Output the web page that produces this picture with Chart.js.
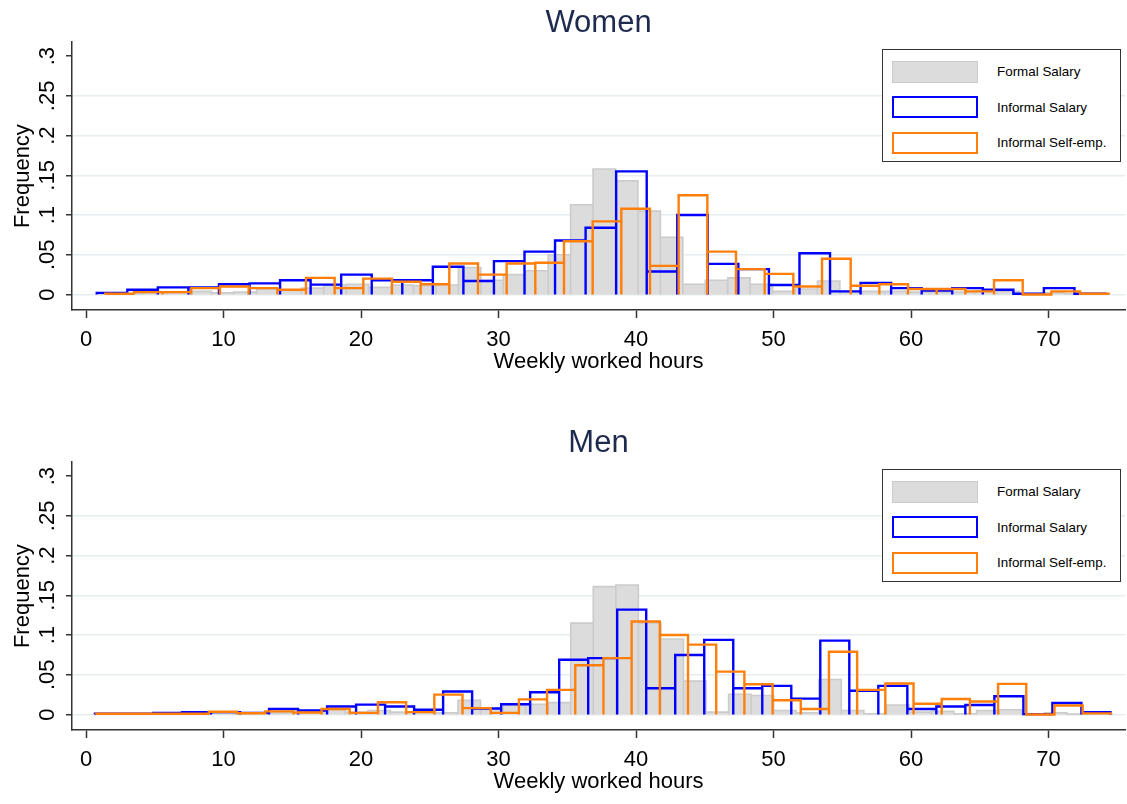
<!DOCTYPE html>
<html>
<head>
<meta charset="utf-8">
<script src="https://cdn.jsdelivr.net/npm/chart.js@4.4.1/dist/chart.umd.min.js"></script>
<style>
  body { margin: 0; background: #fff; font-family: "Liberation Sans", Arial, sans-serif; }
  .panel { position: relative; width: 1127px; }
  .legend {
    position: absolute; left: 882px; top: 49px; width: 239px; height: 113px;
    box-sizing: border-box; border: 1px solid #333; background: #fff; padding-top: 4px;
  }
  .legend-row { display: flex; align-items: center; height: 35.5px; }
  .swatch { display: inline-block; box-sizing: border-box; width: 86px; height: 22px; margin-left: 9px; border-style: solid; }
  .legend-text { margin-left: 19px; font-size: 13.4px; color: #000; }
</style>
</head>
<body>
<div class="panel" style="height:420px">
  <canvas id="womenChart" width="1127" height="420"></canvas>
  <div class="legend" id="womenLegend"></div>
</div>
<div class="panel" style="height:384px">
  <canvas id="menChart" width="1127" height="384"></canvas>
  <div class="legend" id="menLegend"></div>
</div>
<script>
const hourTicks = [0, 10, 20, 30, 40, 50, 60, 70];
const freqTicks = [0, 0.05, 0.1, 0.15, 0.2, 0.25, 0.3];
const seriesLabels = ['Formal Salary', 'Informal Salary', 'Informal Self-emp.'];

// Women - bin start / width in hours, then frequency per bin
const womenFormalStart = 0.97, womenFormalWidth = 1.632;
const womenFormal = [0.001, 0.001, 0.002, 0.002, 0.004, 0.002, 0.003, 0.007, 0.005, 0.008,
  0.012, 0.013, 0.009, 0.012, 0.011, 0.012, 0.034, 0.018, 0.025, 0.030,
  0.050, 0.113, 0.158, 0.143, 0.105, 0.072, 0.013, 0.018, 0.021, 0.013,
  0.004, 0.007, 0.017, 0.003, 0.004, 0.004, 0.003, 0.003, 0.003, 0.005,
  0.004, 0.001, 0.002, 0.001, 0.001];
const womenInformalStart = 0.78, womenInformalWidth = 2.222;
const womenInformal = [0.002, 0.006, 0.009, 0.009, 0.013, 0.014, 0.018, 0.0125, 0.025, 0.018,
  0.018, 0.035, 0.017, 0.042, 0.054, 0.068, 0.084, 0.155, 0.029, 0.100,
  0.0385, 0.032, 0.012, 0.052, 0.004, 0.0146, 0.008, 0.005, 0.008, 0.006,
  0.001, 0.008, 0.001];
const womenSelfStart = 1.40, womenSelfWidth = 2.085;
const womenSelf = [0.001, 0.003, 0.003, 0.008, 0.010, 0.008, 0.006, 0.021, 0.008, 0.020,
  0.016, 0.013, 0.039, 0.025, 0.039, 0.040, 0.067, 0.092, 0.108, 0.036,
  0.125, 0.054, 0.032, 0.026, 0.010, 0.045, 0.011, 0.013, 0.007, 0.007,
  0.004, 0.018, 0.000, 0.004, 0.001];

// Men
const menFormalStart = 0.81, menFormalWidth = 1.64;
const menFormal = [0.001, 0.0005, 0.001, 0.001, 0.001, 0.002, 0.001, 0.002, 0.002, 0.002,
  0.006, 0.003, 0.005, 0.003, 0.003, 0.002, 0.018, 0.007, 0.012, 0.013,
  0.015, 0.115, 0.161, 0.163, 0.115, 0.095, 0.042, 0.003, 0.0255, 0.024,
  0.005, 0.002, 0.044, 0.005, 0.001, 0.012, 0.003, 0.004, 0.001, 0.005,
  0.006, 0.000, 0.002, 0.0005, 0.001];
const menInformalStart = 0.65, menInformalWidth = 2.11;
const menInformal = [0.001, 0.001, 0.002, 0.003, 0.003, 0.002, 0.007, 0.005, 0.010, 0.0125,
  0.010, 0.006, 0.029, 0.0075, 0.013, 0.028, 0.069, 0.071, 0.132, 0.033,
  0.075, 0.094, 0.033, 0.036, 0.020, 0.093, 0.030, 0.036, 0.007, 0.010,
  0.012, 0.023, 0.0005, 0.0145, 0.003];
const menSelfStart = 0.73, menSelfWidth = 2.05;
const menSelf = [0.001, 0.001, 0.001, 0.001, 0.0035, 0.0015, 0.004, 0.0025, 0.007, 0.002,
  0.0155, 0.003, 0.025, 0.008, 0.002, 0.019, 0.031, 0.062, 0.071, 0.117,
  0.100, 0.088, 0.054, 0.038, 0.018, 0.007, 0.079, 0.031, 0.039, 0.0136,
  0.0195, 0.0163, 0.0386, 0.000, 0.0113, 0.0014];

Chart.defaults.font.family = '"Liberation Sans", Arial, sans-serif';

// each bin becomes a closed rectangle outline on the line path
function histogram(start, width, heights) {
    const points = [];
    heights.forEach((h, i) => {
        const left = start + i * width;
        const right = left + width;
        points.push({ x: left, y: 0 }, { x: left, y: h }, { x: right, y: h }, { x: right, y: 0 });
    });
    return points;
}

function htmlLegend(containerId) {
    return {
        id: 'htmlLegend',
        afterUpdate(chart) {
            const box = document.getElementById(containerId);
            box.innerHTML = '';
            chart.data.datasets.forEach(ds => {
                const row = document.createElement('div');
                row.className = 'legend-row';
                const sw = document.createElement('span');
                sw.className = 'swatch';
                sw.style.background = ds.fill ? ds.backgroundColor : '#fff';
                sw.style.borderColor = ds.borderColor;
                sw.style.borderWidth = ds.fill ? '1.5px' : '2px';
                const txt = document.createElement('span');
                txt.className = 'legend-text';
                txt.textContent = ds.label;
                row.appendChild(sw);
                row.appendChild(txt);
                box.appendChild(row);
            });
        }
    };
}

function makeChart(canvasId, legendId, title, bottomPad, formal, informal, self) {
    const ctx = document.getElementById(canvasId).getContext('2d');
    return new Chart(ctx, {
        type: 'line',
        data: {
            datasets: [
                { label: seriesLabels[0], data: histogram(...formal), borderColor: '#cbcbcb',
                  backgroundColor: '#dcdcdc', fill: 'origin', borderWidth: 1.6, order: 3 },
                { label: seriesLabels[1], data: histogram(...informal), borderColor: '#0000ff',
                  fill: false, borderWidth: 2.4, order: 2 },
                { label: seriesLabels[2], data: histogram(...self), borderColor: '#ff7f0a',
                  fill: false, borderWidth: 2.4, order: 1 }
            ]
        },
        options: {
            responsive: false,
            animation: false,
            layout: { padding: { left: 0, right: 2, top: 0, bottom: bottomPad } },
            elements: {
                point: { radius: 0, hoverRadius: 0 },
                line: { tension: 0, borderJoinStyle: 'miter', borderCapStyle: 'butt' }
            },
            plugins: {
                legend: { display: false },
                tooltip: { enabled: false },
                title: {
                    display: true, text: title, fullSize: false, color: '#1e2a4e',
                    font: { size: 31, weight: 'normal' }, padding: { top: 5, bottom: 0 }
                }
            },
            scales: {
                x: {
                    type: 'linear', min: -1.02, max: 75.56,
                    afterBuildTicks: s => { s.ticks = hourTicks.map(v => ({ value: v })); },
                    afterFit: s => { s.height = 70; },
                    grid: { drawOnChartArea: false, tickLength: 8, tickColor: '#333', tickWidth: 1.5 },
                    border: { color: '#333', width: 1.5 },
                    ticks: { color: '#000', font: { size: 22 }, padding: 9, autoSkip: false, maxRotation: 0 },
                    title: { display: true, text: 'Weekly worked hours', color: '#000',
                             font: { size: 22 }, padding: { top: 0, bottom: 5 } }
                },
                y: {
                    min: -0.0195, max: 0.3176,
                    afterBuildTicks: s => { s.ticks = freqTicks.map(v => ({ value: v })); },
                    afterFit: s => { s.width = 72; },
                    grid: {
                        color: c => (c.tick && c.tick.value === 0.3) ? 'rgba(0,0,0,0)' : '#e6edf0',
                        lineWidth: 1.5, tickLength: 6, tickColor: '#333', tickWidth: 1.5
                    },
                    border: { color: '#333', width: 1.5 },
                    ticks: {
                        minRotation: 90, maxRotation: 90, crossAlign: 'center', padding: 3,
                        color: '#000', font: { size: 22 },
                        callback: v => v === 0 ? '0' : String(v).replace('0.', '.')
                    },
                    title: { display: true, text: 'Frequency', color: '#000',
                             font: { size: 22 }, padding: { top: 10, bottom: 0 } }
                }
            }
        },
        plugins: [htmlLegend(legendId)]
    });
}

makeChart('womenChart', 'womenLegend', 'Women', 40,
    [womenFormalStart, womenFormalWidth, womenFormal],
    [womenInformalStart, womenInformalWidth, womenInformal],
    [womenSelfStart, womenSelfWidth, womenSelf]);

makeChart('menChart', 'menLegend', 'Men', 4,
    [menFormalStart, menFormalWidth, menFormal],
    [menInformalStart, menInformalWidth, menInformal],
    [menSelfStart, menSelfWidth, menSelf]);
</script>
</body>
</html>
